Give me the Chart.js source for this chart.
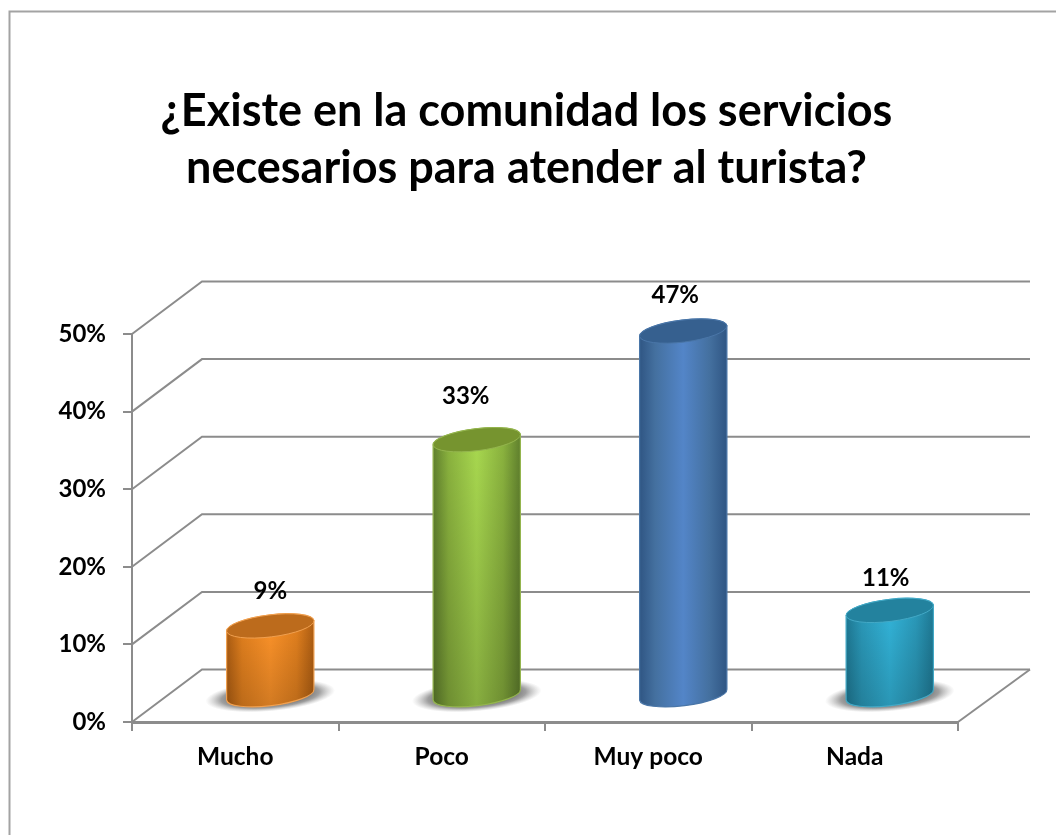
<!DOCTYPE html>
<html>
<head>
<meta charset="utf-8">
<title>Servicios para el turista</title>
<style>
	html, body { margin: 0; padding: 0; background: #fff; }
	canvas { display: block; }
</style>
<script src="https://cdn.jsdelivr.net/npm/chart.js@4"></script>
</head>
<body>
<canvas id="myChart" width="1056" height="835"></canvas>
<script>
var categories = ["Mucho", "Poco", "Muy poco", "Nada"]
var values = [9, 33, 47, 11]
var valueLabels = ["9%", "33%", "47%", "11%"]
var yTicks = [0, 10, 20, 30, 40, 50]
var titleLines = ["¿Existe en la comunidad los servicios", "necesarios para atender al turista?"]

// colours of each cylinder: side, mid, light, top, rim
var sideColors = ["#ab5c12", "#5f7f2d", "#2f5583", "#1e7893"]
var midColors = ["#e07f1e", "#8ab23e", "#44709f", "#2a98b8"]
var lightColors = ["#fb9229", "#a8d84f", "#5385c8", "#32b3d8"]
var topColors = ["#bc6b1c", "#76942f", "#36608f", "#23829e"]
var rimColors = ["#f0a050", "#94b54e", "#4a76a8", "#43a9c6"]
var hasShadow = [true, true, false, true]
var bottomShade = [0.16, 0.2, 0, 0.16]

// where office put the labels, relative to the cylinder top
var labelShiftX = [0, -11, -8, -4]
var labelShiftY = [-35, -43, -36, -32]

var depthX = 70
var depthY = 52.5
var gridColor = "#8c8c8c"
var labelFont = "bold 24px Lato"

function drawShadow(ctx, x, y) {
	ctx.save()
	ctx.translate(x, y + 1)
	ctx.rotate(-5 * Math.PI / 180)
	ctx.scale(1, 0.24)
	var g = ctx.createRadialGradient(0, 0, 30, 0, 0, 65)
	g.addColorStop(0, "rgba(70,70,70,0.9)")
	g.addColorStop(0.55, "rgba(95,95,95,0.6)")
	g.addColorStop(1, "rgba(150,150,150,0)")
	ctx.fillStyle = g
	ctx.beginPath()
	ctx.arc(0, 0, 65, 0, Math.PI * 2)
	ctx.fill()
	ctx.restore()
}

function drawCylinder(ctx, i, x, top, base, width) {
	var rx = width / 2
	var ry = 11
	var rot = -7 * Math.PI / 180

	if (hasShadow[i]) drawShadow(ctx, x, base)

	ctx.beginPath()
	ctx.ellipse(x, base, rx, ry, rot, 0, Math.PI)
	ctx.ellipse(x, top, rx, ry, rot, Math.PI, 0)
	ctx.closePath()

	var g = ctx.createLinearGradient(x - rx, 0, x + rx, 0)
	g.addColorStop(0, sideColors[i])
	g.addColorStop(0.18, midColors[i])
	g.addColorStop(0.5, lightColors[i])
	g.addColorStop(0.8, midColors[i])
	g.addColorStop(1, sideColors[i])
	ctx.fillStyle = g
	ctx.fill()

	if (bottomShade[i] > 0) {
		var v = ctx.createLinearGradient(0, top, 0, base + ry)
		v.addColorStop(0, "rgba(0,0,0,0)")
		v.addColorStop(1, "rgba(0,0,0," + bottomShade[i] + ")")
		ctx.fillStyle = v
		ctx.fill()
	}
	ctx.strokeStyle = rimColors[i]
	ctx.lineWidth = 1.2
	ctx.stroke()

	ctx.beginPath()
	ctx.ellipse(x, top, rx, ry, rot, 0, Math.PI * 2)
	ctx.fillStyle = topColors[i]
	ctx.fill()
	ctx.strokeStyle = rimColors[i]
	ctx.lineWidth = 1
	ctx.stroke()
}

var wallsPlugin = {
	id: "walls",
	beforeDraw: function (chart) {
		var ctx = chart.ctx
		ctx.save()
		ctx.strokeStyle = "#a3a3a3"
		ctx.lineWidth = 2
		ctx.beginPath()
		ctx.moveTo(9.5, 835)
		ctx.lineTo(9.5, 11.5)
		ctx.lineTo(1056, 11.5)
		ctx.stroke()
		ctx.restore()
	},
	beforeDatasetsDraw: function (chart) {
		var ctx = chart.ctx
		var area = chart.chartArea
		var y = chart.scales.y
		ctx.save()
		ctx.strokeStyle = gridColor
		ctx.lineWidth = 2
		yTicks.forEach(function (t) {
			var py = y.getPixelForValue(t)
			ctx.beginPath()
			ctx.moveTo(area.left, py)
			ctx.lineTo(area.left + depthX, py - depthY)
			ctx.lineTo(area.right + depthX + 2, py - depthY)
			ctx.stroke()
		})
		ctx.beginPath()
		ctx.moveTo(area.right, area.bottom)
		ctx.lineTo(area.right + depthX + 2, area.bottom - depthY)
		ctx.stroke()
		ctx.restore()
	},
	afterDatasetsDraw: function (chart) {
		var ctx = chart.ctx
		var bars = chart.getDatasetMeta(0).data
		ctx.save()
		bars.forEach(function (bar, i) {
			var cx = bar.x + depthX / 2
			var top = bar.y - depthY / 2
			drawCylinder(ctx, i, cx, top, bar.base - depthY / 2, bar.width)
			ctx.fillStyle = "#000"
			ctx.font = labelFont
			ctx.textAlign = "center"
			ctx.textBaseline = "middle"
			ctx.fillText(valueLabels[i], cx + labelShiftX[i], top + labelShiftY[i])
		})
		ctx.restore()
	}
}

var chart = new Chart(document.getElementById("myChart").getContext("2d"), {
	type: "bar",
	data: {
		labels: categories,
		datasets: [{
			data: values,
			backgroundColor: "rgba(0,0,0,0)",
			categoryPercentage: 1,
			barPercentage: 0.426
		}]
	},
	plugins: [wallsPlugin],
	options: {
		responsive: false,
		animation: false,
		layout: { padding: { right: 3 } },
		plugins: {
			legend: { display: false },
			tooltip: { enabled: false },
			title: {
				display: true,
				text: titleLines,
				color: "#000",
				font: { family: "Lato", size: 45, weight: "bold", lineHeight: 1.267 },
				padding: { top: 83, bottom: 137 }
			}
		},
		scales: {
			x: {
				afterFit: function (s) { s.height = 113 },
				grid: { drawOnChartArea: false, tickLength: 9, color: gridColor, lineWidth: 2 },
				border: { color: gridColor, width: 3 },
				ticks: {
					color: "#000",
					font: { family: "Lato", size: 24.5, weight: "bold" },
					padding: 11,
					autoSkip: false,
					maxRotation: 0
				}
			},
			y: {
				min: 0,
				max: 50,
				afterFit: function (s) { s.width = 132 },
				afterBuildTicks: function (s) {
					s.ticks = yTicks.map(function (t) { return { value: t } })
				},
				grid: { drawOnChartArea: false, tickLength: 9, color: gridColor, lineWidth: 2 },
				border: { color: gridColor, width: 2 },
				ticks: {
					color: "#000",
					font: { family: "Lato", size: 24, weight: "bold" },
					padding: 17,
					callback: function (v) { return v + "%" }
				}
			},
			// empty axis, only keeps the room for the depth of the floor on the right
			side: {
				position: "right",
				afterFit: function (s) { s.width = 95 },
				grid: { display: false },
				border: { display: false },
				ticks: { display: false }
			}
		}
	}
})
</script>
</body>
</html>
